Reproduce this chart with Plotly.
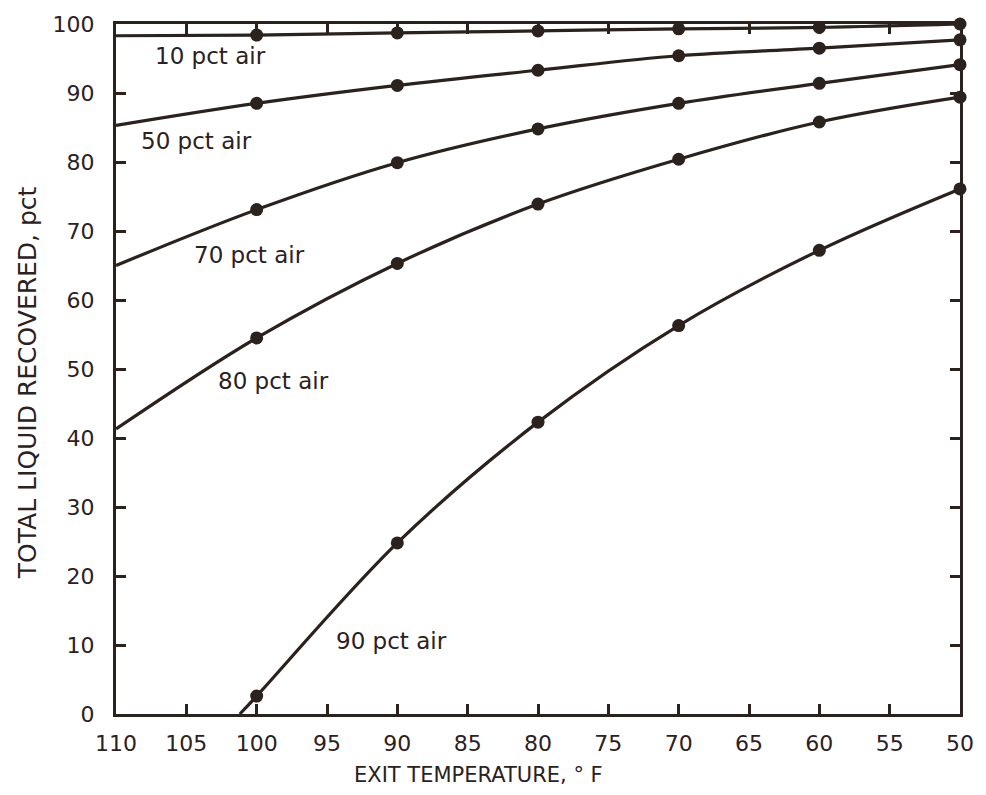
import plotly.graph_objects as go

# Exit temperature (deg F) at measured points
temps = [100, 90, 80, 70, 60, 50]

# Total liquid recovered (pct) at measured points
air10 = [98.4, 98.7, 99.0, 99.3, 99.5, 100.0]
air50 = [88.5, 91.1, 93.3, 95.4, 96.5, 97.7]
air70 = [73.1, 79.9, 84.8, 88.5, 91.4, 94.1]
air80 = [54.5, 65.3, 73.9, 80.4, 85.8, 89.4]
air90 = [2.6, 24.8, 42.3, 56.3, 67.2, 76.1]

# Where each curve begins at the hot end (x, y)
start_x = [110, 110, 110, 110, 101.2]
start_y = [98.3, 85.3, 65.0, 41.3, 0.0]

series_names = ["10 pct air", "50 pct air", "70 pct air", "80 pct air", "90 pct air"]
series_vals = [air10, air50, air70, air80, air90]

# Curve label positions (data coords)
label_x = [103.3, 104.3, 100.5, 98.8, 90.45]
label_y = [95.3, 83.0, 66.5, 48.3, 10.6]

x_ticks = [110, 105, 100, 95, 90, 85, 80, 75, 70, 65, 60, 55, 50]
y_ticks = [0, 10, 20, 30, 40, 50, 60, 70, 80, 90, 100]

x_title = "EXIT TEMPERATURE, ° F"
y_title = "TOTAL LIQUID RECOVERED, pct"

INK = "#2b211d"
FONT = "DejaVu Sans, sans-serif"

fig = go.Figure()
for name, vals, sx, sy in zip(series_names, series_vals, start_x, start_y):
    fig.add_trace(go.Scatter(
        x=[sx] + temps, y=[sy] + vals, mode="lines",
        line=dict(color=INK, width=3.2, shape="spline", smoothing=1.0),
        cliponaxis=False, showlegend=False, hoverinfo="skip"))
    fig.add_trace(go.Scatter(
        x=temps, y=vals, mode="markers", name=name,
        marker=dict(color=INK, size=13),
        cliponaxis=False, showlegend=False))

for name, lx, ly in zip(series_names, label_x, label_y):
    fig.add_annotation(x=lx, y=ly, text=name, showarrow=False,
                       font=dict(family=FONT, size=23, color=INK))

# Axis titles (placed as in the original drawing)
fig.add_annotation(xref="paper", yref="paper", x=0.43, y=-0.088, text=x_title,
                   showarrow=False, xanchor="center", yanchor="middle",
                   font=dict(family=FONT, size=21, color=INK))
fig.add_annotation(xref="paper", yref="paper", x=-0.105, y=0.48, text=y_title,
                   showarrow=False, textangle=-90, xanchor="center", yanchor="middle",
                   font=dict(family=FONT, size=25, color=INK))

axis_common = dict(
    showgrid=False, zeroline=False, showline=True, linecolor=INK, linewidth=3,
    mirror="ticks", ticks="inside", ticklen=10, tickwidth=2.5, tickcolor=INK,
    tickfont=dict(family=FONT, size=22, color=INK),
)

fig.update_xaxes(range=[110, 50], tickvals=x_ticks, ticktext=[str(v) for v in x_ticks],
                 ticklabelstandoff=8, **axis_common)
fig.update_yaxes(range=[0, 100], tickvals=y_ticks, ticktext=[str(v) for v in y_ticks],
                 ticklabelstandoff=14, **axis_common)

fig.update_layout(
    width=986, height=795,
    margin=dict(l=116, r=23, t=19, b=81),
    paper_bgcolor="white", plot_bgcolor="white",
    showlegend=False,
)

fig.write_html("out.html")
